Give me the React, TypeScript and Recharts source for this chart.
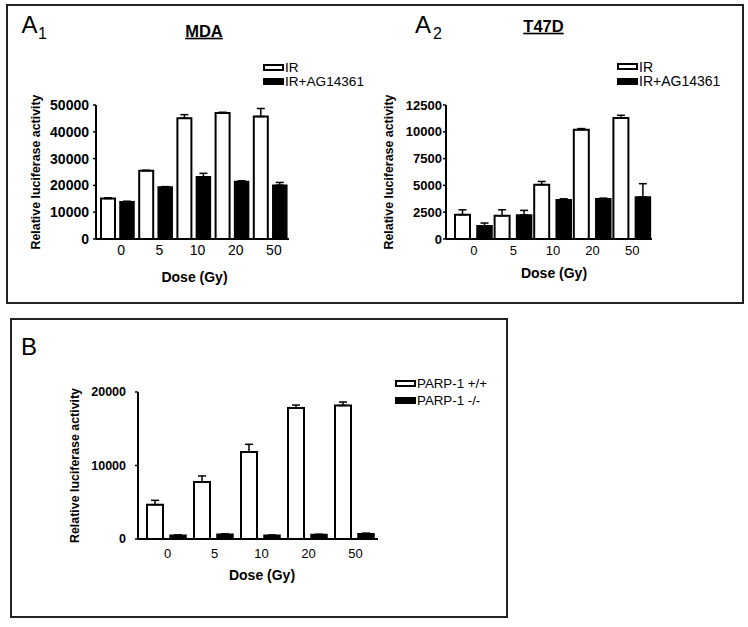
import React from 'react';
import { BarChart, Bar, XAxis, YAxis, ErrorBar, Legend, Label } from 'recharts';

const FONT = '"Liberation Sans", Arial, Helvetica, sans-serif';

// ---------- data ----------
const doses = ['0', '5', '10', '20', '50'];

const mdaIR = [15100, 25500, 45100, 47000, 45700];
const mdaIRErr = [250, 150, 1300, 300, 3000];
const mdaAG = [13900, 19400, 23200, 21500, 20100];
const mdaAGErr = [200, 150, 1300, 200, 1000];
const mdaTicks = [0, 10000, 20000, 30000, 40000, 50000];

const t47dIR = [2270, 2170, 5070, 10200, 11290];
const t47dIRErr = [450, 560, 300, 100, 250];
const t47dAG = [1240, 2240, 3670, 3760, 3920];
const t47dAGErr = [250, 430, 80, 50, 1240];
const t47dTicks = [0, 2500, 5000, 7500, 10000, 12500];

const parpWT = [4670, 7760, 11840, 17820, 18180];
const parpWTErr = [590, 820, 1040, 410, 460];
const parpKO = [500, 650, 500, 600, 700];
const parpKOErr = [40, 40, 30, 40, 100];
const parpTicks = [0, 10000, 20000];

const seriesA = ['IR', 'IR+AG14361'];
const seriesB = ['PARP-1 +/+', 'PARP-1 -/-'];
const yTitle = 'Relative luciferase activity';
const xTitle = 'Dose (Gy)';

function build(a: number[], ae: number[], b: number[], be: number[]) {
  return doses.map((d, i) => ({
    dose: d,
    a: a[i],
    aErr: [0, ae[i]],
    b: b[i],
    bErr: [0, be[i]],
  }));
}

const mdaData = build(mdaIR, mdaIRErr, mdaAG, mdaAGErr);
const t47dData = build(t47dIR, t47dIRErr, t47dAG, t47dAGErr);
const parpData = build(parpWT, parpWTErr, parpKO, parpKOErr);

// ---------- helpers ----------
const makeLegend = (names: string[], rowH: number, fontSize: number) => (props: any) => {
  const items = [...(props.payload || [])].sort(
    (p: any, q: any) => names.indexOf(p.value) - names.indexOf(q.value)
  );
  return (
    <div style={{ fontFamily: FONT, fontSize, color: '#000' }}>
      {items.map((e: any, i: number) => (
        <div
          key={i}
          style={{ display: 'flex', alignItems: 'center', height: rowH, whiteSpace: 'nowrap' }}
        >
          <span
            style={{
              display: 'inline-block',
              width: 21,
              height: 7,
              boxSizing: 'border-box',
              background: e.value === names[0] ? '#fff' : '#000',
              border: '2px solid #000',
              marginRight: 1,
            }}
          />
          <span>{e.value}</span>
        </div>
      ))}
    </div>
  );
};

const yLabel = (dx: number, fontSize: number) => (props: any) => {
  const vb = props.viewBox || {};
  const x = vb.x + dx;
  const y = vb.y + vb.height / 2;
  return (
    <text
      x={x}
      y={y}
      transform={`rotate(-90 ${x} ${y})`}
      textAnchor="middle"
      fontFamily={FONT}
      fontWeight="bold"
      fontSize={fontSize}
      fill="#000"
    >
      {yTitle}
    </text>
  );
};

const xLabel = (dx: number, dy: number, fontSize: number) => (props: any) => {
  const vb = props.viewBox || {};
  return (
    <text
      x={vb.x + vb.width / 2 + dx}
      y={vb.y + dy}
      textAnchor="middle"
      fontFamily={FONT}
      fontWeight="bold"
      fontSize={fontSize}
      fill="#000"
    >
      {xTitle}
    </text>
  );
};

type PanelProps = {
  data: any[];
  names: string[];
  ticks: number[];
  width: number;
  height: number;
  margin: { top: number; right: number; bottom: number; left: number };
  barSize: number;
  barGap: number;
  xPadLeft: number;
  yTickFont: number;
  yTickMargin: number;
  xTickFont: number;
  xTickMargin: number;
  xTickDx: number;
  yLabelDx: number;
  xLabelDx: number;
  xLabelDy: number;
  legendPos: { left: number; top: number };
  legendRowH: number;
  legendFont: number;
};

function Panel(p: PanelProps) {
  return (
    <BarChart
      width={p.width}
      height={p.height}
      data={p.data}
      margin={p.margin}
      barSize={p.barSize}
      barGap={p.barGap}
    >
      <XAxis
        dataKey="dose"
        axisLine={{ stroke: '#000', strokeWidth: 2 }}
        tickLine={false}
        tickSize={6}
        tickMargin={p.xTickMargin}
        height={30}
        interval={0}
        padding={{ left: p.xPadLeft, right: 0 }}
        tick={{ fill: '#000', fontSize: p.xTickFont, fontFamily: FONT, dx: p.xTickDx }}
      >
        <Label content={xLabel(p.xLabelDx, p.xLabelDy, 14)} />
      </XAxis>
      <YAxis
        width={60}
        domain={[0, p.ticks[p.ticks.length - 1]]}
        ticks={p.ticks}
        interval={0}
        allowDataOverflow
        axisLine={{ stroke: '#000', strokeWidth: 2 }}
        tickLine={{ stroke: '#000', strokeWidth: 1.5 }}
        tickSize={3}
        tickMargin={p.yTickMargin}
        tick={{ fill: '#000', fontSize: p.yTickFont, fontWeight: 'bold', fontFamily: FONT }}
      >
        <Label content={yLabel(p.yLabelDx, 12.4)} />
      </YAxis>
      <Legend
        layout="vertical"
        align="center"
        verticalAlign="middle"
        wrapperStyle={{ left: p.legendPos.left, top: p.legendPos.top, width: 140 }}
        content={makeLegend(p.names, p.legendRowH, p.legendFont)}
      />
      <Bar
        dataKey="a"
        name={p.names[0]}
        fill="#fff"
        stroke="#000"
        strokeWidth={2}
        isAnimationActive={false}
      >
        <ErrorBar
          dataKey="aErr"
          direction="y"
          width={4}
          stroke="#000"
          strokeWidth={1.5}
          isAnimationActive={false}
        />
      </Bar>
      <Bar
        dataKey="b"
        name={p.names[1]}
        fill="#000"
        stroke="#000"
        strokeWidth={1.5}
        isAnimationActive={false}
      >
        <ErrorBar
          dataKey="bErr"
          direction="y"
          width={4}
          stroke="#000"
          strokeWidth={1.5}
          isAnimationActive={false}
        />
      </Bar>
    </BarChart>
  );
}

export default function App() {
  return (
    <div
      style={{
        position: 'absolute',
        left: 0,
        top: 0,
        width: 748,
        height: 627,
        background: '#fff',
        fontFamily: FONT,
        overflow: 'hidden',
      }}
    >
      {/* Panel A1 */}
      <div style={{ position: 'absolute', left: 0, top: 0 }}>
        <Panel
          data={mdaData}
          names={seriesA}
          ticks={mdaTicks}
          width={380}
          height={300}
          margin={{ top: 105, right: 91, bottom: 31, left: 36 }}
          barSize={14}
          barGap={5}
          xPadLeft={2}
          yTickFont={14}
          yTickMargin={4}
          xTickFont={14}
          xTickMargin={0}
          xTickDx={4}
          yLabelDx={3.5}
          xLabelDx={2}
          xLabelDy={42.7}
          legendPos={{ left: 263, top: 61 }}
          legendRowH={13.5}
          legendFont={13.6}
        />
      </div>

      {/* Panel A2 */}
      <div style={{ position: 'absolute', left: 380, top: 0 }}>
        <Panel
          data={t47dData}
          names={seriesA}
          ticks={t47dTicks}
          width={368}
          height={300}
          margin={{ top: 105, right: 96, bottom: 31, left: 6 }}
          barSize={15}
          barGap={7}
          xPadLeft={8}
          yTickFont={13}
          yTickMargin={1}
          xTickFont={13}
          xTickMargin={1}
          xTickDx={0}
          yLabelDx={6.5}
          xLabelDx={5}
          xLabelDy={39}
          legendPos={{ left: 237, top: 59.5 }}
          legendRowH={14.5}
          legendFont={14}
        />
      </div>

      {/* Panel B */}
      <div style={{ position: 'absolute', left: 0, top: 310 }}>
        <Panel
          data={parpData}
          names={seriesB}
          ticks={parpTicks}
          width={520}
          height={300}
          margin={{ top: 82, right: 142, bottom: 41, left: 78 }}
          barSize={16}
          barGap={7}
          xPadLeft={5}
          yTickFont={12.5}
          yTickMargin={9}
          xTickFont={13}
          xTickMargin={4}
          xTickDx={1}
          yLabelDx={1.3}
          xLabelDx={4}
          xLabelDy={41}
          legendPos={{ left: 395, top: 64.5 }}
          legendRowH={17}
          legendFont={13.3}
        />
      </div>

      {/* Frames, panel letters and titles */}
      <svg
        width={748}
        height={627}
        style={{ position: 'absolute', left: 0, top: 0, pointerEvents: 'none' }}
      >
        <rect x={7} y={5} width={736} height={298} fill="none" stroke="#222" strokeWidth={2} />
        <rect x={11} y={319} width={496} height={298} fill="none" stroke="#222" strokeWidth={2} />

        <text x={21.5} y={33} fontFamily={FONT} fontSize={24} fill="#000">A</text>
        <text x={38} y={39} fontFamily={FONT} fontSize={16} fill="#000">1</text>
        <text x={415} y={33} fontFamily={FONT} fontSize={24} fill="#000">A</text>
        <text x={433} y={38.5} fontFamily={FONT} fontSize={16} fill="#000">2</text>
        <text x={21} y={355} fontFamily={FONT} fontSize={24} fill="#000">B</text>

        <text
          x={204}
          y={36.7}
          textAnchor="middle"
          fontFamily={FONT}
          fontSize={16.5}
          fontWeight="bold"
          textDecoration="underline"
          fill="#000"
        >
          MDA
        </text>
        <text
          x={543.5}
          y={31.7}
          textAnchor="middle"
          fontFamily={FONT}
          fontSize={16.5}
          fontWeight="bold"
          textDecoration="underline"
          fill="#000"
        >
          T47D
        </text>
      </svg>
    </div>
  );
}
